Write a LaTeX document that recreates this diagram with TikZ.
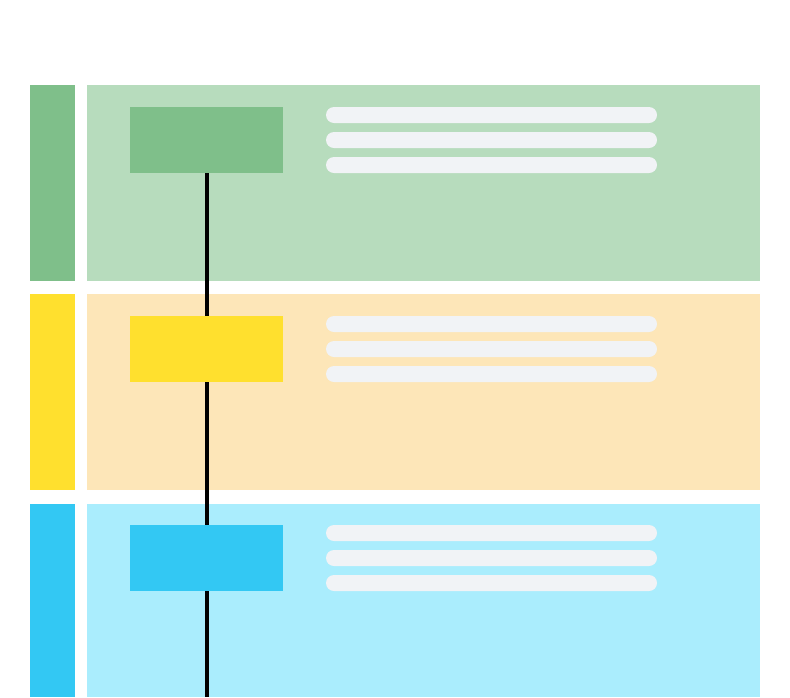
\documentclass[tikz,border=0pt]{standalone}
\definecolor{gdark}{HTML}{7FBF8A}
\definecolor{glight}{HTML}{B7DCBD}
\definecolor{ydark}{HTML}{FFE02E}
\definecolor{ylight}{HTML}{FDE6B8}
\definecolor{bdark}{HTML}{33C8F3}
\definecolor{blight}{HTML}{AAEDFD}
\definecolor{barc}{HTML}{F1F3F6}
\begin{document}
\begin{tikzpicture}[x=1pt,y=-1pt,
  blk/.style={rectangle,draw=none,inner sep=0pt,outer sep=0pt,anchor=north west},
  sidebar/.style={blk,minimum width=45pt},
  band/.style={blk,minimum width=673pt},
  stepbox/.style={blk,minimum width=153pt,minimum height=66pt},
  txtbar/.style={blk,fill=barc,rounded corners=8pt,minimum width=331pt,minimum height=16pt},
  link/.style={line width=4pt,black}]
\useasboundingbox (0,0) rectangle (790,697);
% green row
\node[sidebar,fill=gdark,minimum height=196pt] (gs) at (30,85) {};
\node[band,fill=glight,minimum height=196pt] (gb) at (87,85) {};
% yellow row
\node[sidebar,fill=ydark,minimum height=196pt] (ys) at (30,294) {};
\node[band,fill=ylight,minimum height=196pt] (yb) at (87,294) {};
% blue row
\node[sidebar,fill=bdark,minimum height=193pt] (bs) at (30,504) {};
\node[band,fill=blight,minimum height=193pt] (bb) at (87,504) {};
% text bars
\foreach \r/\y in {g/107,y/316,b/525}{
  \node[txtbar] (\r t1) at (326,\y) {};
  \node[txtbar] (\r t2) at (326,\y+25) {};
  \node[txtbar] (\r t3) at (326,\y+50) {};
}
% step boxes
\node[stepbox,fill=gdark] (g) at (130,107) {};
\node[stepbox,fill=ydark] (y) at (130,316) {};
\node[stepbox,fill=bdark] (b) at (130,525) {};
\coordinate (end) at (206.5,697);
% connectors
\draw[link] (g.south) -- (y.north);
\draw[link] (y.south) -- (b.north);
\draw[link] (b.south) -- (end);
\end{tikzpicture}
\end{document}
